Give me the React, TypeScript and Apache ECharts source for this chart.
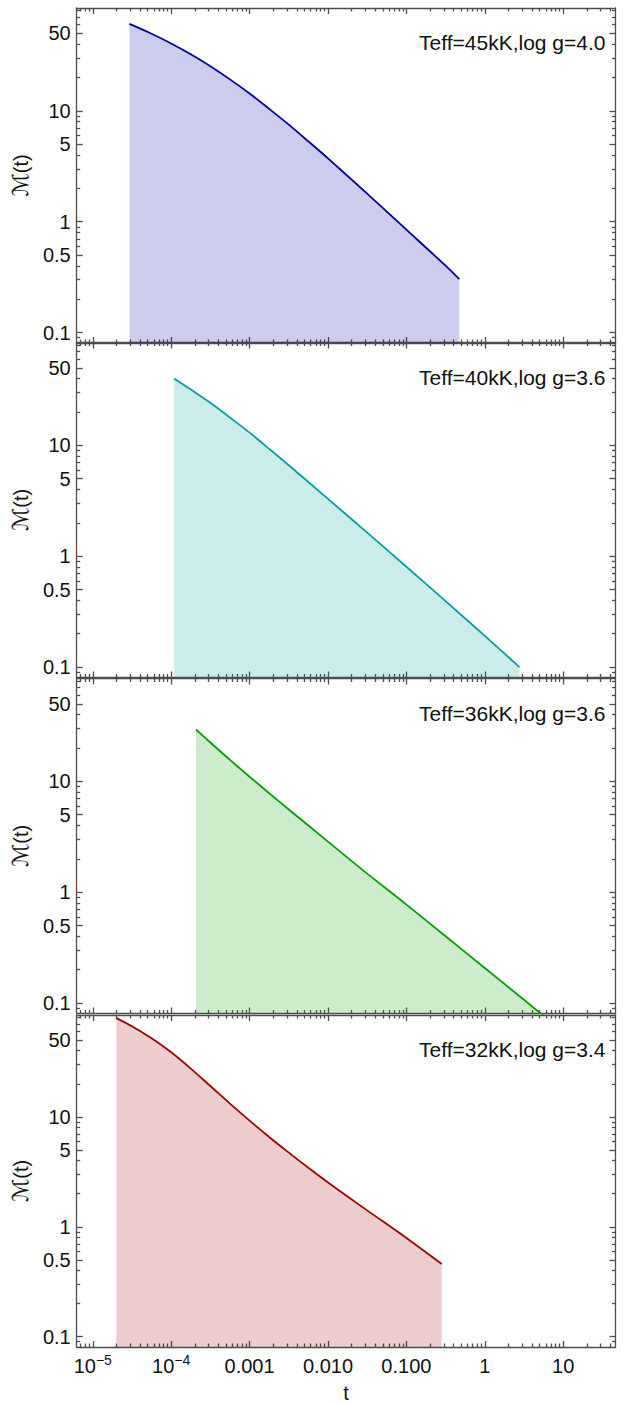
import React, { useEffect, useRef } from "react";
import * as echarts from "echarts";

// ---------- data ----------
const panelLabels = [
  "Teff=45kK,log g=4.0",
  "Teff=40kK,log g=3.6",
  "Teff=36kK,log g=3.6",
  "Teff=32kK,log g=3.4",
];
const lineColors = ["#0000a0", "#00a0a0", "#00a000", "#a00000"];

const t45 = [2.94e-5, 5.62e-5, 1e-4, 1.78e-4, 3.16e-4, 5.62e-4, 1e-3, 1.78e-3, 3.16e-3, 5.62e-3, 0.01, 0.0316, 0.1, 0.316, 0.473];
const m45 = [60.7, 49.5, 40.5, 32.3, 25.2, 19.2, 14.3, 10.4, 7.5, 5.3, 3.72, 1.79, 0.847, 0.401, 0.303];

const t40 = [1.09e-4, 1.78e-4, 3.16e-4, 5.62e-4, 1e-3, 1.78e-3, 3.16e-3, 0.01, 0.0316, 0.1, 0.316, 1, 2.77];
const m40 = [40.1, 31.8, 24.2, 17.8, 13.0, 9.29, 6.61, 3.29, 1.63, 0.803, 0.393, 0.191, 0.1];

const t36 = [2.07e-4, 3.16e-4, 5.62e-4, 1e-3, 1.78e-3, 3.16e-3, 0.01, 0.0316, 0.1, 0.316, 1, 3.16, 5.62];
const m36 = [29.3, 22.4, 15.6, 11.0, 7.8, 5.57, 2.86, 1.47, 0.773, 0.4, 0.207, 0.107, 0.0769];

const t32 = [2.0e-5, 3.16e-5, 5.62e-5, 1e-4, 1.78e-4, 3.16e-4, 5.62e-4, 1e-3, 1.78e-3, 3.16e-3, 5.62e-3, 0.01, 0.0316, 0.1, 0.282];
const m32 = [79.1, 66.7, 51.8, 38.7, 27.5, 19.1, 13.2, 9.25, 6.56, 4.73, 3.44, 2.53, 1.41, 0.791, 0.459];

const panelT = [t45, t40, t36, t32];
const panelM = [m45, m40, m36, m32];

const xMajor = [1e-5, 1e-4, 1e-3, 0.01, 0.1, 1, 10];
const xMajorLabels = ["10^-5", "10^-4", "0.001", "0.010", "0.100", "1", "10"];
const yMajor = [0.1, 0.5, 1, 5, 10, 50];
const yMajorLabels = ["0.1", "0.5", "1", "5", "10", "50"];

const xName = "t";
const yNameScript = "ℳ";
const yNameRest = "(t)";

// ---------- layout ----------
const X_MIN = -5.205;
const X_MAX = 1.667;
const Y_MIN = -1.094;
const Y_MAX = 1.927;
const GRID_LEFT = 76.7;
const GRID_WIDTH = 538.8;
const GRID_TOPS = [8, 342.5, 678.5, 1015];
const GRID_HEIGHT = 335;

const FONT = "'Liberation Sans', Arial, sans-serif";
const FRAME = "#4d4d4d";
const TEXT = "#111";
const TICK_FONT = 20;

const lg = (v: number) => Math.log10(v);

function minorList(lo: number, hi: number, skipFive: boolean) {
  const out: number[] = [];
  for (let k = -7; k <= 3; k++) {
    for (let m = 2; m <= 9; m++) {
      if (skipFive && m === 5) continue;
      const v = lg(m * Math.pow(10, k));
      if (v > lo && v < hi) out.push(v);
    }
  }
  return out;
}

const xMinorVals = minorList(X_MIN, X_MAX, false);
const yMinorVals = minorList(Y_MIN, Y_MAX, true);
const xMajorVals = xMajor.map(lg);
const yMajorVals = yMajor.map(lg);

function findLabel(vals: number[], labels: string[], v: number) {
  for (let i = 0; i < vals.length; i++) if (Math.abs(vals[i] - v) < 1e-6) return labels[i];
  return "";
}

function xFormatter(v: number) {
  const s = findLabel(xMajorVals, xMajorLabels, v);
  if (s.indexOf("^") >= 0) {
    const [b, e] = s.split("^");
    return `{b|${b}}{s|${e.replace("-", "−")}}`;
  }
  return `{b|${s}}`;
}

function buildOption() {
  const grid: any[] = [];
  const xAxis: any[] = [];
  const yAxis: any[] = [];
  const series: any[] = [];
  const graphic: any[] = [];

  const lineStyle = { color: FRAME, width: 1.3 };

  GRID_TOPS.forEach((top, p) => {
    grid.push({ left: GRID_LEFT, width: GRID_WIDTH, top, height: GRID_HEIGHT, containLabel: false });
    const isLast = p === GRID_TOPS.length - 1;
    const base = { type: "value", gridIndex: p, min: X_MIN, max: X_MAX, splitLine: { show: false }, minorTick: { show: false } };
    xAxis.push({
      ...base,
      position: "bottom",
      axisLine: { show: true, onZero: false, lineStyle },
      axisTick: { show: true, inside: true, length: 6, customValues: xMajorVals, lineStyle },
      axisLabel: {
        show: isLast,
        customValues: xMajorVals,
        margin: 6,
        formatter: xFormatter,
        rich: {
          b: { fontSize: TICK_FONT, fontFamily: FONT, color: TEXT, lineHeight: 23, verticalAlign: "bottom" },
          s: { fontSize: 14, fontFamily: FONT, color: TEXT, lineHeight: 14, verticalAlign: "top" },
        },
      },
      name: isLast ? xName : "",
      nameLocation: "middle",
      nameGap: 36,
      nameTextStyle: { fontSize: 20, fontFamily: FONT, color: TEXT },
    });
    xAxis.push({
      ...base,
      position: "bottom",
      axisLine: { show: false, onZero: false },
      axisTick: { show: true, inside: true, length: 3.5, customValues: xMinorVals, lineStyle },
      axisLabel: { show: false },
    });
    xAxis.push({
      ...base,
      position: "top",
      axisLine: { show: true, onZero: false, lineStyle },
      axisTick: { show: true, inside: true, length: 6, customValues: xMajorVals, lineStyle },
      axisLabel: { show: false },
    });
    xAxis.push({
      ...base,
      position: "top",
      axisLine: { show: false, onZero: false },
      axisTick: { show: true, inside: true, length: 3.5, customValues: xMinorVals, lineStyle },
      axisLabel: { show: false },
    });

    const ybase = { type: "value", gridIndex: p, min: Y_MIN, max: Y_MAX, splitLine: { show: false }, minorTick: { show: false } };
    yAxis.push({
      ...ybase,
      position: "left",
      axisLine: { show: true, onZero: false, lineStyle },
      axisTick: { show: true, inside: true, length: 6, customValues: yMajorVals, lineStyle },
      axisLabel: {
        show: true,
        customValues: yMajorVals,
        margin: 6,
        formatter: (v: number) => findLabel(yMajorVals, yMajorLabels, v),
        fontSize: TICK_FONT,
        fontFamily: FONT,
        color: TEXT,
      },
      name: `{m|${yNameScript}}{r|${yNameRest}}`,
      nameLocation: "middle",
      nameGap: 40,
      nameRotate: 90,
      nameTextStyle: {
        color: TEXT,
        rich: {
          m: { fontSize: 22, fontFamily: "'DejaVu Sans', 'Noto Sans', sans-serif", color: TEXT, fontStyle: "italic" },
          r: { fontSize: 20, fontFamily: FONT, color: TEXT },
        },
      },
    });
    yAxis.push({
      ...ybase,
      position: "left",
      axisLine: { show: false, onZero: false },
      axisTick: { show: true, inside: true, length: 3.5, customValues: yMinorVals, lineStyle },
      axisLabel: { show: false },
    });
    yAxis.push({
      ...ybase,
      position: "right",
      axisLine: { show: true, onZero: false, lineStyle },
      axisTick: { show: true, inside: true, length: 6, customValues: yMajorVals, lineStyle },
      axisLabel: { show: false },
    });
    yAxis.push({
      ...ybase,
      position: "right",
      axisLine: { show: false, onZero: false },
      axisTick: { show: true, inside: true, length: 3.5, customValues: yMinorVals, lineStyle },
      axisLabel: { show: false },
    });

    const data = panelT[p].map((t, i) => [lg(t), lg(panelM[p][i])]);
    series.push({
      type: "line",
      name: panelLabels[p],
      xAxisIndex: p * 4,
      yAxisIndex: p * 4,
      data,
      smooth: 0.3,
      showSymbol: false,
      clip: true,
      lineStyle: { color: lineColors[p], width: 1.8 },
      itemStyle: { color: lineColors[p] },
      areaStyle: { color: lineColors[p], opacity: 0.2, origin: "start" },
      z: 2,
    });

    graphic.push({
      type: "text",
      x: GRID_LEFT + GRID_WIDTH - 10,
      y: top + 34.5,
      style: {
        text: panelLabels[p],
        align: "right",
        verticalAlign: "middle",
        fontSize: 21,
        fontFamily: FONT,
        fill: TEXT,
      },
      z: 10,
    });
  });

  return { animation: false, backgroundColor: "#ffffff", grid, xAxis, yAxis, series, graphic };
}

export default function App() {
  const ref = useRef<HTMLDivElement>(null);
  useEffect(() => {
    if (!ref.current) return;
    const chart = echarts.init(ref.current, undefined, { renderer: "svg" });
    chart.setOption(buildOption() as any);
    return () => chart.dispose();
  }, []);
  return (
    <div
      ref={ref}
      style={{ position: "absolute", left: 0, top: 0, width: 623, height: 1404, background: "#fff" }}
    />
  );
}
